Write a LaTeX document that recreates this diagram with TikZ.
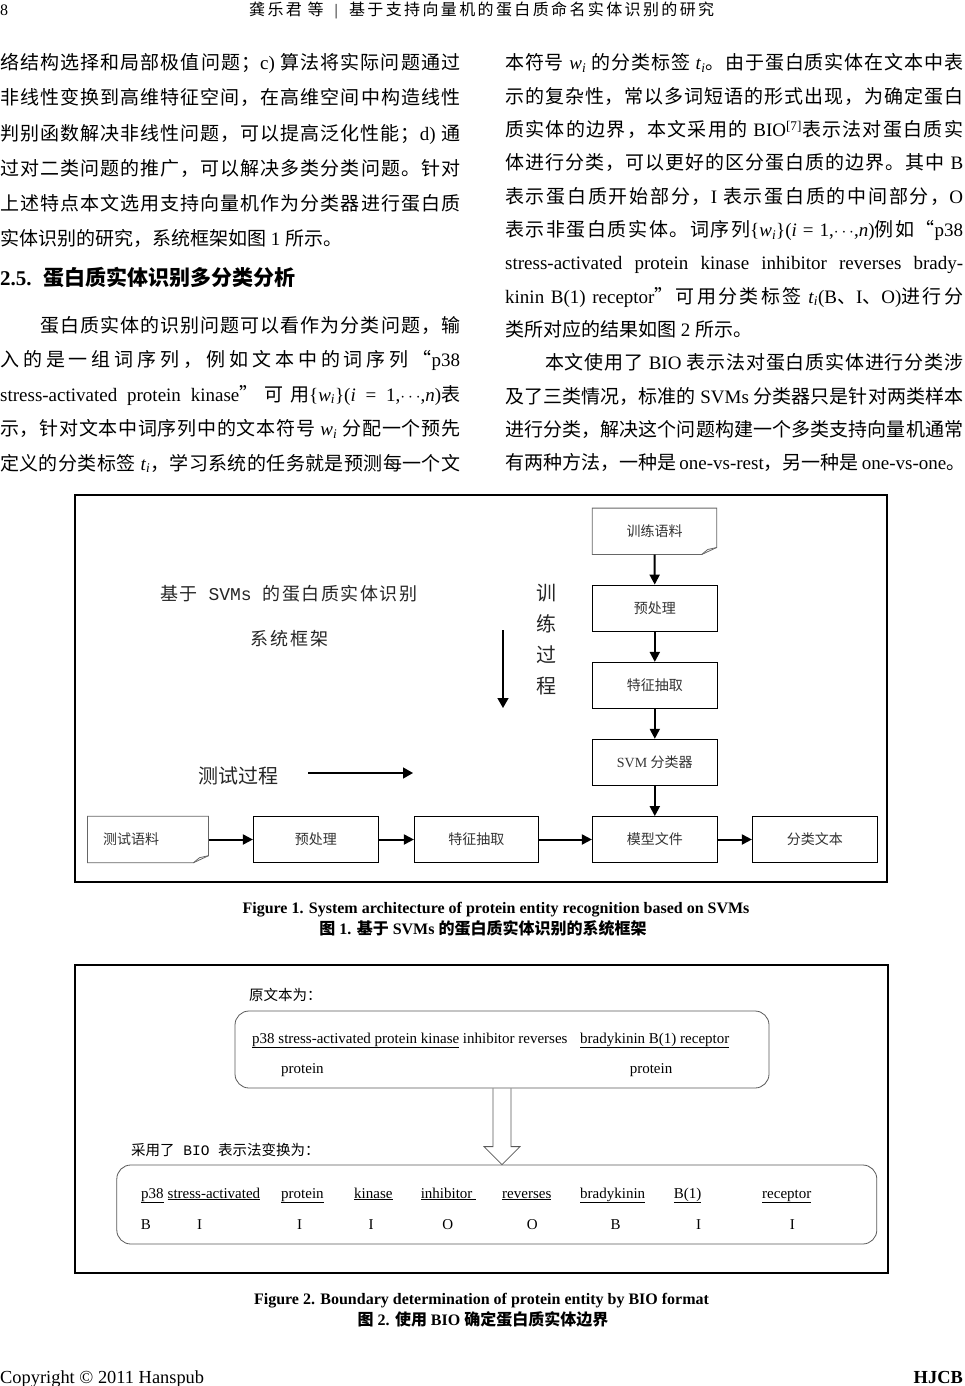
\documentclass[tikz,border=0pt]{standalone}
\usepackage{fontspec}
\setmainfont{Liberation Serif}
\setmonofont{Liberation Mono}
\newfontfamily\cjkf{Noto Sans CJK SC}
\usetikzlibrary{arrows.meta,calc}
\XeTeXinterchartokenstate=1
\newXeTeXintercharclass\CJKcls
\newcount\cjkcnt
\def\setcjkrange#1#2{\cjkcnt=#1\relax
  \loop\XeTeXcharclass\cjkcnt=\CJKcls\relax
  \ifnum\cjkcnt<#2\relax\advance\cjkcnt by 1\repeat}
\setcjkrange{"3000}{"303F}
\setcjkrange{"4E00}{"9FFF}
\setcjkrange{"FF00}{"FFEF}
\setcjkrange{"201C}{"201D}
\def\latf{\rmfamily}
\XeTeXinterchartoks 0 \CJKcls = {\cjkf}
\XeTeXinterchartoks 1 \CJKcls = {\cjkf}
\XeTeXinterchartoks 2 \CJKcls = {\cjkf}
\XeTeXinterchartoks 3 \CJKcls = {\cjkf}
\XeTeXinterchartoks 4095 \CJKcls = {\cjkf}
\XeTeXinterchartoks \CJKcls 0 = {\latf}
\XeTeXinterchartoks \CJKcls 1 = {\latf}
\XeTeXinterchartoks \CJKcls 2 = {\latf}
\XeTeXinterchartoks \CJKcls 3 = {\latf}
\XeTeXinterchartoks \CJKcls 4095 = {\latf}
\XeTeXinterchartoks \CJKcls \CJKcls = {\hskip 0pt plus 3pt\relax}
\newcommand\JL[1]{\makebox[460pt][s]{#1}}
\newcommand\JR[1]{\makebox[458pt][s]{#1}}
\newcommand\wsub{\textit{w}\textsubscript{\textit{i}}}
\newcommand\tsub{\textit{t}\textsubscript{\textit{i}}}
\tikzset{
  L/.style={anchor=base west, inner sep=0pt, font=\fontsize{19}{22}\selectfont},
  fbox/.style={draw, line width=0.8pt, minimum width=125pt, minimum height=46pt, inner sep=0pt, font=\fontsize{14}{16}\selectfont, text=black!80},
  docbox/.style={minimum width=124pt, minimum height=46pt, inner sep=0pt, font=\fontsize{14}{16}\selectfont, text=black!80},
  docline/.style={draw=black!60, line width=0.8pt},
  flow/.style={line width=2pt, -{Triangle[length=10pt,width=10pt]}},
  thinflow/.style={line width=1.5pt, -{Triangle[length=10pt,width=11pt]}},
  frm/.style={line width=1.1pt},
  rbox/.style={draw=black!65, line width=0.8pt, rounded corners=14pt, inner sep=0pt},
  wd/.style={anchor=base west, inner sep=0pt, font=\fontsize{15}{17}\selectfont},
  lab/.style={anchor=base, inner sep=0pt, font=\fontsize{15}{17}\selectfont},
  captxt/.style={anchor=base, inner sep=0pt, font=\fontsize{16}{18}\selectfont\bfseries},
  capcjk/.style={inner sep=0pt, font=\fontsize{16}{18}\selectfont\bfseries},
}
\begin{document}
\begin{tikzpicture}[x=1pt,y=-1pt]
\useasboundingbox[fill=white] (0,0) rectangle (965,1386);

% running head
\node[anchor=base west, inner sep=0pt, font=\fontsize{16}{18}\selectfont] (pgnum) at (0,16) {8};
\node[anchor=base west, inner sep=0pt, font=\fontsize{16}{18}\selectfont] (runhead) at (249,16) {\makebox[465pt][s]{龚乐君 等 \ | \ 基于支持向量机的蛋白质命名实体识别的研究}};

% left column
\node[L] (a1) at (0,70) {\JL{络结构选择和局部极值问题；c) 算法将实际问题通过}};
\node[L] (a2) at (0,105) {\JL{非线性变换到高维特征空间，在高维空间中构造线性}};
\node[L] (a3) at (0,140) {\JL{判别函数解决非线性问题，可以提高泛化性能；d) 通}};
\node[L] (a4) at (0,175) {\JL{过对二类问题的推广，可以解决多类分类问题。针对}};
\node[L] (a5) at (0,210) {\JL{上述特点本文选用支持向量机作为分类器进行蛋白质}};
\node[L] (a6) at (0,245) {实体识别的研究，系统框架如图 1 所示。};
\node[L, font=\fontsize{21}{24}\selectfont\bfseries] (h25) at (0,285) {2.5.\hspace{0.55em}蛋白质实体识别多分类分析};
\node[L] (b1) at (0,332) {\hspace*{40pt}\makebox[420pt][s]{蛋白质实体的识别问题可以看作为分类问题，输}};
\node[L] (b2) at (0,366.5) {\JL{入的是一组词序列，例如文本中的词序列“p38}};
\node[L] (b3) at (0,401) {\JL{stress-activated protein kinase”可用\latf\{\wsub\}(\textit{i} = 1,$\cdots$,\textit{n})表}};
\node[L] (b4) at (0,435.5) {\JL{示，针对文本中词序列中的文本符号 \wsub{} 分配一个预先}};
\node[L] (b5) at (0,470) {\JL{定义的分类标签 \tsub，学习系统的任务就是预测每一个文}};

% right column
\node[L] (c1) at (505,70) {\JR{本符号 \wsub{} 的分类标签 \tsub。由于蛋白质实体在文本中表}};
\node[L] (c2) at (505,103.3) {\JR{示的复杂性，常以多词短语的形式出现，为确定蛋白}};
\node[L] (c3) at (505,136.6) {\JR{质实体的边界，本文采用的 BIO\textsuperscript{[7]}表示法对蛋白质实}};
\node[L] (c4) at (505,169.9) {\JR{体进行分类，可以更好的区分蛋白质的边界。其中 B}};
\node[L] (c5) at (505,203.2) {\JR{表示蛋白质开始部分，I 表示蛋白质的中间部分，O}};
\node[L] (c6) at (505,236.5) {\JR{表示非蛋白质实体。词序列\latf\{\wsub\}(\textit{i} = 1,$\cdots$,\textit{n})例如“p38}};
\node[L] (c7) at (505,269.8) {\JR{stress-activated protein kinase inhibitor reverses brady-}};
\node[L] (c8) at (505,303.1) {\JR{kinin B(1) receptor”可用分类标签 \tsub(B、I、O)进行分}};
\node[L] (c9) at (505,336.4) {类所对应的结果如图 2 所示。};
\node[L] (c10) at (505,369.7) {\hspace*{40pt}\makebox[418pt][s]{本文使用了 BIO 表示法对蛋白质实体进行分类涉}};
\node[L] (c11) at (505,403) {\JR{及了三类情况，标准的 SVMs 分类器只是针对两类样本}};
\node[L] (c12) at (505,436.3) {\JR{进行分类，解决这个问题构建一个多类支持向量机通常}};
\node[L] (c13) at (505,469.6) {\JR{有两种方法，一种是 one-vs-rest，另一种是 one-vs-one。}};

% ===== Figure 1 =====
\draw[frm] (75,495) rectangle (887,882);
\node[anchor=base west, inner sep=0pt, font=\fontsize{18}{20}\selectfont, text=black!85] (t1) at (160,600) {\def\latf{\ttfamily}\makebox[257pt][s]{基于 SVMs 的蛋白质实体识别}};
\node[anchor=base west, inner sep=0pt, font=\fontsize{18}{20}\selectfont, text=black!85] (t2) at (250,645) {\makebox[78pt][s]{系统框架}};
\node[inner sep=0pt, align=center, font=\fontsize{20}{31}\selectfont, text=black!85] (train) at (546,640) {训\\练\\过\\程};
\node[inner sep=0pt, font=\fontsize{20}{22}\selectfont, text=black!85] (testp) at (238.5,776) {测试过程};
\coordinate (va1) at (503,630);
\coordinate (va2) at (503,708);
\coordinate (ha1) at (308,773);
\coordinate (ha2) at (413,773);
\draw[thinflow] (va1) -- (va2);
\draw[thinflow] (ha1) -- (ha2);

\node[docbox] (trc) at (654.5,531.3) {训练语料};
\draw[docline] (trc.north west) -- (trc.north east) -- ($(trc.south east)+(0,-7)$) -- ($(trc.south east)+(-15,0)$) -- (trc.south west) -- cycle;
\draw[docline] ($(trc.south east)+(0,-7)$) -- ($(trc.south east)+(-9,-5)$) -- ($(trc.south east)+(-15,0)$);
\node[fbox] (pre1) at (654.8,608) {预处理};
\node[fbox] (fe1) at (654.8,685.3) {特征抽取};
\node[fbox] (svm) at (654.8,762.2) {SVM 分类器};
\node[fbox] (model) at (654.8,839.5) {模型文件};
\node[fbox] (out) at (814.8,839.5) {分类文本};
\node[docbox, minimum width=120.6pt] (test) at (148,839.5) {\makebox[90pt][l]{测试语料}};
\draw[docline] (test.north west) -- (test.north east) -- ($(test.south east)+(0,-7)$) -- ($(test.south east)+(-15,0)$) -- (test.south west) -- cycle;
\draw[docline] ($(test.south east)+(0,-7)$) -- ($(test.south east)+(-9,-5)$) -- ($(test.south east)+(-15,0)$);
\node[fbox] (pre2) at (315.8,839.5) {预处理};
\node[fbox, minimum width=124pt] (fe2) at (476.3,839.5) {特征抽取};

\draw[flow] (trc) -- (pre1);
\draw[flow] (pre1) -- (fe1);
\draw[flow] (fe1) -- (svm);
\draw[flow] (svm) -- (model);
\draw[flow] (test) -- (pre2);
\draw[flow] (pre2) -- (fe2);
\draw[flow] (fe2) -- (model);
\draw[flow] (model) -- (out);

\node[captxt] (cap1e) at (496,913) {Figure 1. System architecture of protein entity recognition based on SVMs};
\node[capcjk] (cap1c) at (483,928) {图 1. 基于 SVMs 的蛋白质实体识别的系统框架};

% ===== Figure 2 =====
\draw[frm] (75,965) rectangle (888,1273);
\node[anchor=west, inner sep=0pt, font=\fontsize{14.5}{16}\selectfont] (orig) at (249,995) {原文本为：};
\node[rbox, minimum width=534pt, minimum height=77pt] (box1) at (502,1049.5) {};
\node[wd] (s1) at (252,1043) {\underline{p38 stress-activated protein kinase} inhibitor reverses};
\node[wd] (s2) at (580,1043) {\underline{bradykinin B(1) receptor}};
\node[wd] (p1) at (281,1073) {protein};
\node[wd] (p2) at (629.6,1073) {protein};
\node[anchor=west, inner sep=0pt, font=\fontsize{14.5}{16}\selectfont] (conv) at (131,1150) {\def\latf{\ttfamily}采用了 BIO 表示法变换为：};
\node[rbox, minimum width=760pt, minimum height=79pt] (box2) at (496.8,1204.5) {};
\coordinate (tip) at (box1.south |- box2.north);
\draw[draw=black!65, line width=0.8pt] ($(box1.south)+(-9,0)$) -- ($(tip)+(-9,-18)$) -- ($(tip)+(-18,-18)$) -- (tip) -- ($(tip)+(18,-18)$) -- ($(tip)+(9,-18)$) -- ($(box1.south)+(9,0)$);

\node[wd] (w1) at (141,1198) {\underline{p38}};
\node[wd] (w2) at (167.5,1198) {\underline{stress-activated}};
\node[wd] (w3) at (281,1198) {\underline{protein}};
\node[wd] (w4) at (354,1198) {\underline{kinase}};
\node[wd] (w5) at (420.6,1198) {\underline{inhibitor\ }};
\node[wd] (w6) at (502,1198) {\underline{reverses}};
\node[wd] (w7) at (580,1198) {\underline{bradykinin}};
\node[wd] (w8) at (673.7,1198) {\underline{B(1)}};
\node[wd] (w9) at (762,1198) {\underline{receptor}};
\node[lab] (g1) at (146,1229) {B};
\node[lab] (g2) at (199.7,1229) {I};
\node[lab] (g3) at (299.5,1229) {I};
\node[lab] (g4) at (371,1229) {I};
\node[lab] (g5) at (447.7,1229) {O};
\node[lab] (g6) at (532.4,1229) {O};
\node[lab] (g7) at (615.5,1229) {B};
\node[lab] (g8) at (698.7,1229) {I};
\node[lab] (g9) at (792.3,1229) {I};

\node[captxt] (cap2e) at (481.5,1304) {Figure 2. Boundary determination of protein entity by BIO format};
\node[capcjk] (cap2c) at (483,1319) {图 2. 使用 BIO 确定蛋白质实体边界};

% footer
\node[anchor=base west, inner sep=0pt, font=\fontsize{18.4}{20}\selectfont] (copy) at (0,1383) {Copyright © 2011 Hanspub};
\node[anchor=base east, inner sep=0pt, font=\fontsize{18.4}{20}\selectfont\bfseries] (jname) at (963,1383) {HJCB};
\end{tikzpicture}
\end{document}
